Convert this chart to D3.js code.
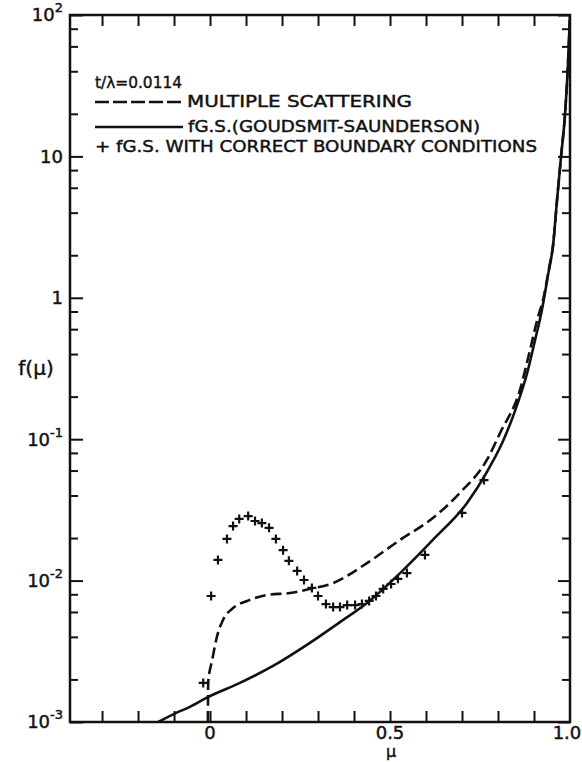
<!DOCTYPE html>
<html>
<head>
<meta charset="utf-8">
<script src="https://cdn.jsdelivr.net/npm/d3@7"></script>
<style>
  body { margin: 0; background: #fff; }
  svg { display: block; }
  text { font-family: "DejaVu Sans", sans-serif; fill: #111; stroke: #111; stroke-width: 0.45px; }
  .num { font-family: "Liberation Sans", Arial, sans-serif; }
</style>
</head>
<body>
<svg id="chart" width="582" height="762"></svg>
<script>
// values (mu, f(mu))
const gsMu = [-0.144, -0.094, -0.056, -0.006, 0.083, 0.175, 0.269, 0.361, 0.436, 0.528, 0.619, 0.714,
  0.769, 0.814, 0.850, 0.881, 0.903, 0.922, 0.939, 0.953, 0.964, 0.975, 0.986, 0.994, 1.0];
const gsF = [0.00100, 0.00116, 0.00128, 0.00150, 0.00189, 0.00249, 0.00351, 0.00509, 0.00695, 0.0113, 0.0194, 0.0354,
  0.0586, 0.0971, 0.166, 0.294, 0.504, 0.820, 1.45, 2.36, 4.92, 9.9, 19.6, 42.9, 100];

const msMu = [-0.006, -0.005, 0.006, 0.019, 0.036, 0.064, 0.103, 0.158, 0.222, 0.278, 0.342, 0.436, 0.528,
  0.619, 0.694, 0.769, 0.806, 0.861, 0.889, 0.911, 0.925, 0.942, 0.953, 0.964, 0.975, 0.986, 0.994, 1.0];
const msF = [0.00100, 0.00192, 0.00274, 0.00399, 0.00526, 0.00640, 0.00718, 0.00791, 0.00817, 0.00873, 0.00961, 0.0133, 0.0194,
  0.0277, 0.0417, 0.0713, 0.111, 0.223, 0.428, 0.731, 0.964, 1.63, 2.36, 4.92, 9.9, 19.6, 42.9, 100];

const bcMu = [-0.019, 0.003, 0.022, 0.047, 0.064, 0.081, 0.106, 0.125, 0.144, 0.164, 0.183, 0.203, 0.219, 0.242,
  0.261, 0.283, 0.300, 0.322, 0.342, 0.361, 0.381, 0.403, 0.422, 0.442, 0.461, 0.481, 0.503, 0.522, 0.547,
  0.597, 0.700, 0.761];
const bcF = [0.00189, 0.00778, 0.0140, 0.0197, 0.0243, 0.0273, 0.0286, 0.0264, 0.0255, 0.0236, 0.0197, 0.0164, 0.0138, 0.0117,
  0.0101, 0.00887, 0.00778, 0.00682, 0.00650, 0.00650, 0.00671, 0.00671, 0.00682, 0.00718, 0.00778, 0.00873, 0.00946, 0.0103, 0.0113,
  0.0152, 0.0301, 0.0514];

// ticks and labels
const muTicks = [-0.3, -0.2, -0.1, 0, 0.1, 0.2, 0.3, 0.4, 0.5, 0.6, 0.7, 0.8, 0.9];
const muLabelVals = [0, 0.5, 1.0];
const muLabels = ['0', '0.5', '1.0'];
const decades = [1e-3, 1e-2, 1e-1, 1, 10, 100];
const decadeBase = ['10', '10', '10', '1', '10', '10'];
const decadeExp = ['-3', '-2', '-1', '', '', '2'];
const minorMult = [2, 4, 6, 8];

const legendTitle = 't/\u03bb=0.0114';
const legendItems = ['MULTIPLE SCATTERING', 'fG.S.(GOUDSMIT-SAUNDERSON)', '+ fG.S. WITH CORRECT BOUNDARY CONDITIONS'];

const frame = {left: 70, right: 570, top: 15, bottom: 722};
const ink = '#111';

const x = d3.scaleLinear().domain([-0.389, 1.0]).range([frame.left, frame.right]);
const y = d3.scaleLog().domain([1e-3, 1e2]).range([frame.bottom, frame.top]);

const svg = d3.select('#chart');
svg.append('rect').attr('width', 582).attr('height', 762).attr('fill', '#fff');

svg.append('defs').append('clipPath').attr('id', 'plot')
  .append('rect')
  .attr('x', frame.left).attr('y', frame.top)
  .attr('width', frame.right - frame.left).attr('height', frame.bottom - frame.top);

// minor ticks 2,4,6,8 in every decade
const minor = [];
decades.slice(0, -1).forEach(d => minorMult.forEach(m => minor.push(d * m)));

function drawTicks(axis, values, size, transform) {
  svg.append('g')
    .attr('transform', transform)
    .call(axis.tickValues(values).tickSize(size).tickFormat(''))
    .call(g => g.select('.domain').remove())
    .selectAll('line')
    .attr('stroke', ink)
    .attr('stroke-width', 2);
}

drawTicks(d3.axisBottom(x), muTicks, -11, `translate(0,${frame.bottom})`);
drawTicks(d3.axisTop(x), muTicks, -11, `translate(0,${frame.top})`);
drawTicks(d3.axisLeft(y), decades, -13, `translate(${frame.left},0)`);
drawTicks(d3.axisLeft(y), minor, -8, `translate(${frame.left},0)`);
drawTicks(d3.axisRight(y), decades, -12, `translate(${frame.right},0)`);
drawTicks(d3.axisRight(y), minor, -8, `translate(${frame.right},0)`);

// frame
svg.append('rect')
  .attr('x', frame.left).attr('y', frame.top)
  .attr('width', frame.right - frame.left).attr('height', frame.bottom - frame.top)
  .attr('fill', 'none').attr('stroke', ink).attr('stroke-width', 2.5);

// y tick labels with superscripts
const yLab = svg.append('g').attr('class', 'num').attr('font-size', 18).attr('text-anchor', 'end');
decades.forEach((d, i) => {
  const t = yLab.append('text')
    .attr('x', frame.left - 7)
    .attr('y', y(d))
    .attr('dy', '0.36em');
  t.append('tspan').text(decadeBase[i]);
  if (decadeExp[i]) {
    t.append('tspan').attr('font-size', 13).attr('dy', '-0.7em').text(decadeExp[i]);
  }
});

// x tick labels
svg.append('g').attr('class', 'num').attr('font-size', 18).attr('text-anchor', 'middle')
  .selectAll('text')
  .data(muLabelVals)
  .join('text')
  .attr('x', d => Math.min(x(d), 567))
  .attr('y', 739)
  .text((d, i) => muLabels[i]);

// axis titles
svg.append('text').attr('x', 391).attr('y', 757).attr('font-size', 16)
  .attr('text-anchor', 'middle').text('\u03bc');
svg.append('text').attr('x', 36).attr('y', 375).attr('font-size', 20)
  .attr('text-anchor', 'middle').text('f(\u03bc)');

// curves
const line = d3.line()
  .x(d => x(d[0]))
  .y(d => y(d[1]))
  .curve(d3.curveMonotoneX);

const plot = svg.append('g').attr('clip-path', 'url(#plot)');

plot.append('path')
  .datum(gsMu.map((m, i) => [m, gsF[i]]))
  .attr('d', line)
  .attr('fill', 'none')
  .attr('stroke', ink)
  .attr('stroke-width', 2.6);

plot.append('path')
  .datum(msMu.map((m, i) => [m, msF[i]]))
  .attr('d', line)
  .attr('fill', 'none')
  .attr('stroke', ink)
  .attr('stroke-width', 2.6)
  .attr('stroke-dasharray', '11,5');

plot.selectAll('path.cross')
  .data(bcMu.map((m, i) => [m, bcF[i]]))
  .join('path')
  .attr('class', 'cross')
  .attr('transform', d => `translate(${x(d[0])},${y(d[1])})`)
  .attr('d', 'M-4.5,0H4.5M0,-4.5V4.5')
  .attr('stroke', ink)
  .attr('stroke-width', 2.2);

// legend
const leg = svg.append('g').attr('font-size', 16.5);
leg.append('text').attr('x', 95).attr('y', 88)
  .attr('textLength', 87).attr('lengthAdjust', 'spacingAndGlyphs')
  .text(legendTitle);

leg.append('line').attr('x1', 95).attr('x2', 183).attr('y1', 102).attr('y2', 102)
  .attr('stroke', ink).attr('stroke-width', 2.5).attr('stroke-dasharray', '14,4');
leg.append('text').attr('x', 187).attr('y', 107)
  .attr('textLength', 225).attr('lengthAdjust', 'spacingAndGlyphs')
  .text(legendItems[0]);

leg.append('line').attr('x1', 95).attr('x2', 183).attr('y1', 127).attr('y2', 127)
  .attr('stroke', ink).attr('stroke-width', 2.5);
leg.append('text').attr('x', 188).attr('y', 132)
  .attr('textLength', 292).attr('lengthAdjust', 'spacingAndGlyphs')
  .text(legendItems[1]);

leg.append('text').attr('x', 95).attr('y', 152)
  .attr('textLength', 442).attr('lengthAdjust', 'spacingAndGlyphs')
  .text(legendItems[2]);
</script>
</body>
</html>
